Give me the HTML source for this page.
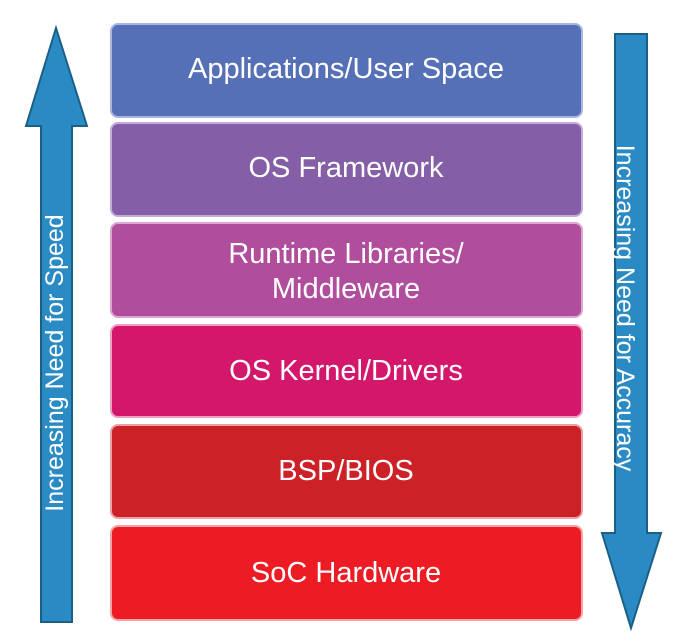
<!DOCTYPE html>
<html>
<head>
<meta charset="utf-8">
<style>
  html, body { margin: 0; padding: 0; background: #ffffff; }
  body { width: 685px; height: 641px; overflow: hidden; }
  svg { display: block; }
  text { font-family: "Liberation Sans", Arial, sans-serif; fill: #ffffff; }
</style>
</head>
<body>
<svg width="685" height="641" viewBox="0 0 685 641" xmlns="http://www.w3.org/2000/svg">
  <rect x="0" y="0" width="685" height="641" fill="#ffffff"/>

  <!-- Left up arrow -->
  <polygon points="56,28 87,126 72,126 72,622 41,622 41,126 26,126"
           fill="#2a8bc4" stroke="#1a5f86" stroke-width="2" stroke-linejoin="miter"/>
  <!-- Right down arrow -->
  <polygon points="615,34 647,34 647,533 661,533 631,628 602,533 615,533"
           fill="#2a8bc4" stroke="#1a5f86" stroke-width="2" stroke-linejoin="miter"/>

  <!-- Boxes -->
  <g stroke-width="2">
    <rect x="111" y="24"  width="471" height="93" rx="7" fill="#5570b7" stroke="#a9b6e0"/>
    <rect x="111" y="123" width="471" height="93" rx="7" fill="#845fa8" stroke="#c4acd8"/>
    <rect x="111" y="223" width="471" height="94" rx="7" fill="#b04e9d" stroke="#dca6d0"/>
    <rect x="111" y="325" width="471" height="92" rx="7" fill="#d3186b" stroke="#eea0c0"/>
    <rect x="111" y="425" width="471" height="93" rx="7" fill="#cb2127" stroke="#eca2a4"/>
    <rect x="111" y="526" width="471" height="94" rx="7" fill="#ed1c24" stroke="#f6a3a6"/>
  </g>

  <!-- Box labels -->
  <g font-size="29" text-anchor="middle">
    <text x="346" y="78">Applications/User Space</text>
    <text x="346" y="177">OS Framework</text>
    <text x="346" y="263">Runtime Libraries/</text>
    <text x="346" y="298">Middleware</text>
    <text x="346" y="380">OS Kernel/Drivers</text>
    <text x="346" y="480">BSP/BIOS</text>
    <text x="346" y="582">SoC Hardware</text>
  </g>

  <!-- Arrow labels -->
  <text font-size="25" text-anchor="middle" transform="translate(63,363) rotate(-90)">Increasing Need for Speed</text>
  <text font-size="25" text-anchor="middle" transform="translate(617,308) rotate(90)">Increasing Need for Accuracy</text>
</svg>
</body>
</html>
